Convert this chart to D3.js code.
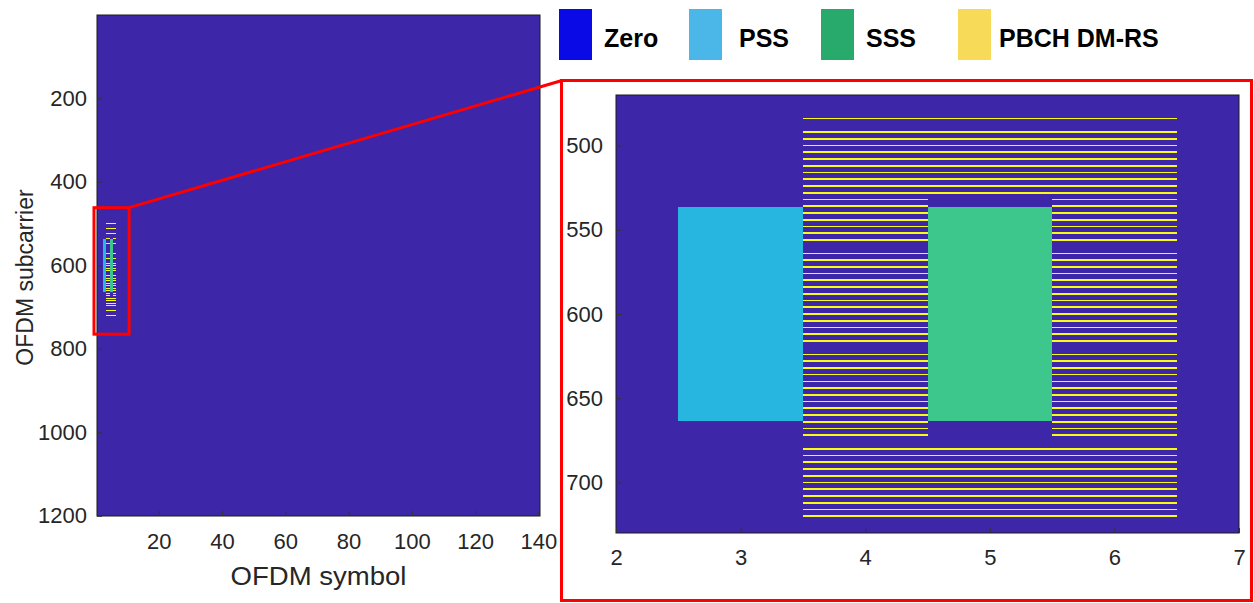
<!DOCTYPE html>
<html>
<head>
<meta charset="utf-8">
<script src="https://cdn.jsdelivr.net/npm/d3@7"></script>
<style>
  body { margin: 0; background: #fff; }
  svg { display: block; font-family: "Liberation Sans", Arial, sans-serif; }
  .tick text { fill: #262626; }
</style>
</head>
<body>
<svg id="chart" width="1254" height="603"></svg>
<script>
// 5G NR resource grid with the SS/PBCH block, plus a zoomed view of the block

const nSymbols = 140;
const nSubcarriers = 1200;

const legendLabels = ['Zero', 'PSS', 'SSS', 'PBCH DM-RS'];
const legendColors = ['#0a0ae6', '#4bb6e8', '#27aa6b', '#f6da58'];

// grid cell colours (parula-ish)
const zeroColor = '#3e26a8';
const pssColor = '#27b6df';
const sssColor = '#3dc78d';
const dmrsColor = '#f9fb15';

// PSS / SSS : symbol + first/last subcarrier
const pssRegion = { symbol: 3, first: 537, last: 663 };
const sssRegion = { symbol: 5, first: 537, last: 663 };

// DM-RS subcarriers as they show up in the picture (symbols 4 and 6)
const pbchSymbols = [4, 6];
const dmrsSubcarriers = [484, 492, 496, 500, 504, 508, 512, 516, 520, 524, 528, 532, 536, 540,
  544, 548, 552, 556, 564, 568, 572, 576, 580, 584, 588, 592, 596, 600, 604, 608, 612, 616,
  624, 628, 632, 636, 640, 644, 648, 652, 656, 660, 664, 668, 672, 680, 684, 688, 692, 696,
  700, 704, 708, 712, 716, 720];
// DM-RS in the SSS symbol (outside the SSS band)
const sssSymbolDmrs = [484, 492, 496, 500, 504, 508, 512, 516, 520, 524, 528,
  680, 684, 688, 692, 696, 700, 704, 708, 712, 716, 720];

const leftXTicks = [20, 40, 60, 80, 100, 120, 140];
const leftYTicks = [200, 400, 600, 800, 1000, 1200];
const rightXTicks = [2, 3, 4, 5, 6, 7];
const rightYTicks = [500, 550, 600, 650, 700];
const zoomDomainX = [2, 7];
const zoomDomainY = [470, 730];
// the red box drawn on the overview (symbol / subcarrier coords)
const highlightBox = { x0: -0.45, x1: 10.65, y0: 462, y1: 765 };

// build the list of non-zero cells
const cells = [];
cells.push({ type: 'pss', symbol: pssRegion.symbol, first: pssRegion.first, last: pssRegion.last });
cells.push({ type: 'sss', symbol: sssRegion.symbol, first: sssRegion.first, last: sssRegion.last });
pbchSymbols.forEach(s => {
  dmrsSubcarriers.forEach(k => cells.push({ type: 'dmrs', symbol: s, first: k, last: k }));
});
sssSymbolDmrs.forEach(k => cells.push({ type: 'dmrs', symbol: sssRegion.symbol, first: k, last: k }));

const fillFor = { pss: pssColor, sss: sssColor, dmrs: dmrsColor };

const svg = d3.select('#chart');

function drawGrid(g, clipId, x, y, w, h) {
  g.append('clipPath').attr('id', clipId)
    .append('rect').attr('width', w).attr('height', h);
  const inner = g.append('g').attr('clip-path', `url(#${clipId})`);
  inner.append('rect')
    .attr('width', w).attr('height', h)
    .attr('fill', zeroColor);
  inner.selectAll('rect.cell')
    .data(cells)
    .join('rect')
    .attr('class', 'cell')
    .attr('x', d => x(d.symbol - 0.5))
    .attr('width', d => x(d.symbol + 0.5) - x(d.symbol - 0.5))
    .attr('y', d => y(d.first - 0.5))
    .attr('height', d => y(d.last + 0.5) - y(d.first - 0.5))
    .attr('fill', d => fillFor[d.type])
    .attr('shape-rendering', 'crispEdges');
  g.append('rect')
    .attr('width', w).attr('height', h)
    .attr('fill', 'none')
    .attr('stroke', '#1a1a1a')
    .attr('stroke-width', 1);
}

function styleAxis(a) {
  a.select('.domain').remove();
  a.selectAll('line').attr('stroke', '#333');
  a.selectAll('text').attr('font-size', 22);
}

// ---------- overview grid ----------
const L = { left: 97, top: 15, width: 443, height: 501 };
const xL = d3.scaleLinear().domain([0.5, nSymbols + 0.5]).range([0, L.width]);
const yL = d3.scaleLinear().domain([0.5, nSubcarriers + 0.5]).range([0, L.height]);
const gL = svg.append('g').attr('transform', `translate(${L.left},${L.top})`);
drawGrid(gL, 'clipOverview', xL, yL, L.width, L.height);

gL.append('g')
  .attr('transform', `translate(0,${L.height})`)
  .call(d3.axisBottom(xL).tickValues(leftXTicks).tickFormat(d3.format('d')).tickSize(-5).tickPadding(17))
  .call(styleAxis);

gL.append('g')
  .call(d3.axisLeft(yL).tickValues(leftYTicks).tickFormat(d3.format('d')).tickSize(-5).tickPadding(10))
  .call(styleAxis);

svg.append('text')
  .attr('x', L.left + L.width / 2).attr('y', 585)
  .attr('text-anchor', 'middle').attr('font-size', 26).attr('fill', '#262626')
  .attr('textLength', 176).attr('lengthAdjust', 'spacingAndGlyphs')
  .text('OFDM symbol');
svg.append('text')
  .attr('transform', `translate(33,${L.top + L.height / 2 + 12}) rotate(-90)`)
  .attr('text-anchor', 'middle').attr('font-size', 23).attr('fill', '#262626')
  .text('OFDM subcarrier');

// ---------- zoomed grid ----------
const R = { left: 616, top: 95, width: 623, height: 438 };
const xR = d3.scaleLinear().domain(zoomDomainX).range([0, R.width]);
const yR = d3.scaleLinear().domain(zoomDomainY).range([0, R.height]);
const gR = svg.append('g').attr('transform', `translate(${R.left},${R.top})`);
drawGrid(gR, 'clipZoom', xR, yR, R.width, R.height);

gR.append('g')
  .attr('transform', `translate(0,${R.height})`)
  .call(d3.axisBottom(xR).tickValues(rightXTicks).tickFormat(d3.format('d')).tickSize(-5).tickPadding(16))
  .call(styleAxis);

gR.append('g')
  .call(d3.axisLeft(yR).tickValues(rightYTicks).tickFormat(d3.format('d')).tickSize(-5).tickPadding(13))
  .call(styleAxis);

// ---------- red call-out ----------
const bx0 = L.left + xL(highlightBox.x0), bx1 = L.left + xL(highlightBox.x1);
const by0 = L.top + yL(highlightBox.y0), by1 = L.top + yL(highlightBox.y1);
svg.append('rect')
  .attr('x', bx0).attr('y', by0)
  .attr('width', bx1 - bx0).attr('height', by1 - by0)
  .attr('fill', 'none').attr('stroke', '#f00').attr('stroke-width', 3);
svg.append('line')
  .attr('x1', bx1).attr('y1', by0)
  .attr('x2', 562).attr('y2', 80.5)
  .attr('stroke', '#f00').attr('stroke-width', 3);
svg.append('rect')
  .attr('x', 561.5).attr('y', 80.5)
  .attr('width', 690).attr('height', 520)
  .attr('fill', 'none').attr('stroke', '#f00').attr('stroke-width', 3);

// ---------- legend ----------
const legendX = [559, 689, 821, 958];
const legend = svg.append('g');
legend.selectAll('rect')
  .data(legendLabels)
  .join('rect')
  .attr('x', (d, i) => legendX[i])
  .attr('y', 9)
  .attr('width', 33).attr('height', 51)
  .attr('fill', (d, i) => legendColors[i]);
legend.selectAll('text')
  .data(legendLabels)
  .join('text')
  .attr('x', (d, i) => legendX[i] + [45, 50, 45, 41][i])
  .attr('y', 47)
  .attr('font-size', 25)
  .attr('font-weight', 'bold')
  .attr('fill', '#000')
  .text(d => d);
</script>
</body>
</html>
